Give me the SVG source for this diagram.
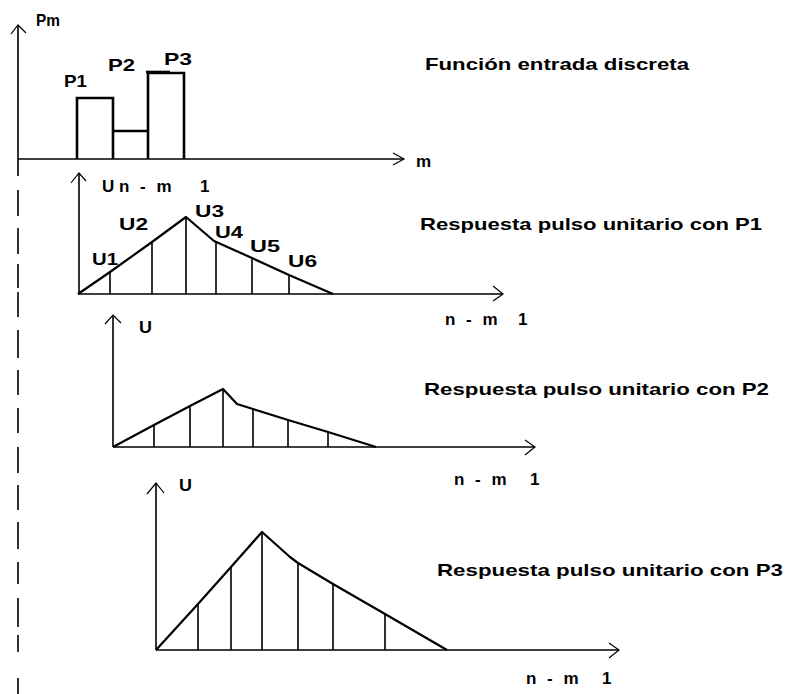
<svg xmlns="http://www.w3.org/2000/svg" width="785" height="694" viewBox="0 0 785 694">
<style>
text { font-family: "Liberation Sans", Arial, sans-serif; font-weight: bold; font-size: 17px; fill: #000; white-space: pre; }
.nm { letter-spacing: 3px; }
.ax { fill: none; stroke: #000; stroke-width: 1.6; }
.ah { fill: none; stroke: #000; stroke-width: 1.2; }
.bar { fill: none; stroke: #000; stroke-width: 2.6; }
.crv { fill: none; stroke: #000; stroke-width: 2.2; stroke-linejoin: round; }
.stem { stroke: #000; stroke-width: 1.6; }
</style>
<rect width="785" height="694" fill="#fff"/>

<g id="input-function">
  <path class="ax" d="M18 25 V176 M18 159 H404"/>
  <path class="ax" d="M18 190 V216 M18 228 V254 M18 264 V288 M18 292 V317 M18 330 V358 M18 370 V395 M18 408 V433 M18 447 V473 M18 485 V510 M18 522 V549 M18 562 V584 M18 598 V627 M18 635 V652 M18 678 V694"/>
  <path class="ah" d="M11 34 L18 25 L26 33 M393 153 L404 159 L393 165"/>
  <path class="bar" d="M77 159 V98 H113 V159 M113 131 H148 M148 159 V73 H184 V159"/>
  <path class="bar" d="M146 72 H170"/>
  <text x="36" y="26" textLength="24" lengthAdjust="spacingAndGlyphs">Pm</text>
  <text x="64" y="87" textLength="23" lengthAdjust="spacingAndGlyphs">P1</text>
  <text x="108" y="71" textLength="27" lengthAdjust="spacingAndGlyphs">P2</text>
  <text x="164" y="65" textLength="28" lengthAdjust="spacingAndGlyphs">P3</text>
  <text x="416" y="167">m</text>
  <text x="425" y="70" textLength="264" lengthAdjust="spacingAndGlyphs">Función entrada discreta</text>
</g>

<g id="response-p1">
  <path class="ax" d="M79 173 V294 M78 294 H503"/>
  <path class="ah" d="M71 183 L79 173 L86 181 M493 286 L503 294 L493 301"/>
  <polyline class="crv" points="78,294 110,272 152,242 186,217 214,241 252,258 289,275 333,294"/>
  <path class="stem" d="M110 272 V294 M152 242 V294 M186 217 V294 M216 242 V294 M252 258 V294 M289 275 V294"/>
  <text y="192"><tspan x="102">U</tspan><tspan x="119" class="nm">n - m</tspan><tspan x="200">1</tspan></text>
  <text x="92" y="265" textLength="26" lengthAdjust="spacingAndGlyphs">U1</text>
  <text x="119" y="230" textLength="29" lengthAdjust="spacingAndGlyphs">U2</text>
  <text x="195" y="217" textLength="29" lengthAdjust="spacingAndGlyphs">U3</text>
  <text x="215" y="238" textLength="28" lengthAdjust="spacingAndGlyphs">U4</text>
  <text x="250" y="252" textLength="30" lengthAdjust="spacingAndGlyphs">U5</text>
  <text x="288" y="267" textLength="29" lengthAdjust="spacingAndGlyphs">U6</text>
  <text x="420" y="230" textLength="342" lengthAdjust="spacingAndGlyphs">Respuesta pulso unitario con P1</text>
  <text y="325"><tspan x="445" class="nm">n - m</tspan><tspan x="518">1</tspan></text>
</g>

<g id="response-p2">
  <path class="ax" d="M113 315 V447 M113 447 H535"/>
  <path class="ah" d="M105 324 L113 315 L121 323 M525 440 L535 447 L525 455"/>
  <polyline class="crv" points="113,447 154,425 190,406 223,389 237,404 253,409 288,420 328,432 376,447"/>
  <path class="stem" d="M154 425 V447 M190 406 V447 M223 389 V447 M253 409 V447 M288 420 V447 M328 432 V447"/>
  <text x="139" y="333" textLength="13" lengthAdjust="spacingAndGlyphs">U</text>
  <text x="424" y="395" textLength="345" lengthAdjust="spacingAndGlyphs">Respuesta pulso unitario con P2</text>
  <text y="485"><tspan x="454" class="nm">n - m</tspan><tspan x="530">1</tspan></text>
</g>

<g id="response-p3">
  <path class="ax" d="M156 483 V650 M156 650 H619"/>
  <path class="ah" d="M147 494 L156 483 L164 493 M609 643 L619 650 L609 658"/>
  <polyline class="crv" points="156,650 198,604 231,567 262,532 290,557 298,563 333,584 385,614 447,650"/>
  <path class="stem" d="M198 604 V650 M231 567 V650 M262 532 V650 M298 563 V650 M333 584 V650 M385 614 V650"/>
  <text x="179" y="491" textLength="13" lengthAdjust="spacingAndGlyphs">U</text>
  <text x="437" y="576" textLength="346" lengthAdjust="spacingAndGlyphs">Respuesta pulso unitario con P3</text>
  <text y="684"><tspan x="526" class="nm">n - m</tspan><tspan x="602">1</tspan></text>
</g>
</svg>
